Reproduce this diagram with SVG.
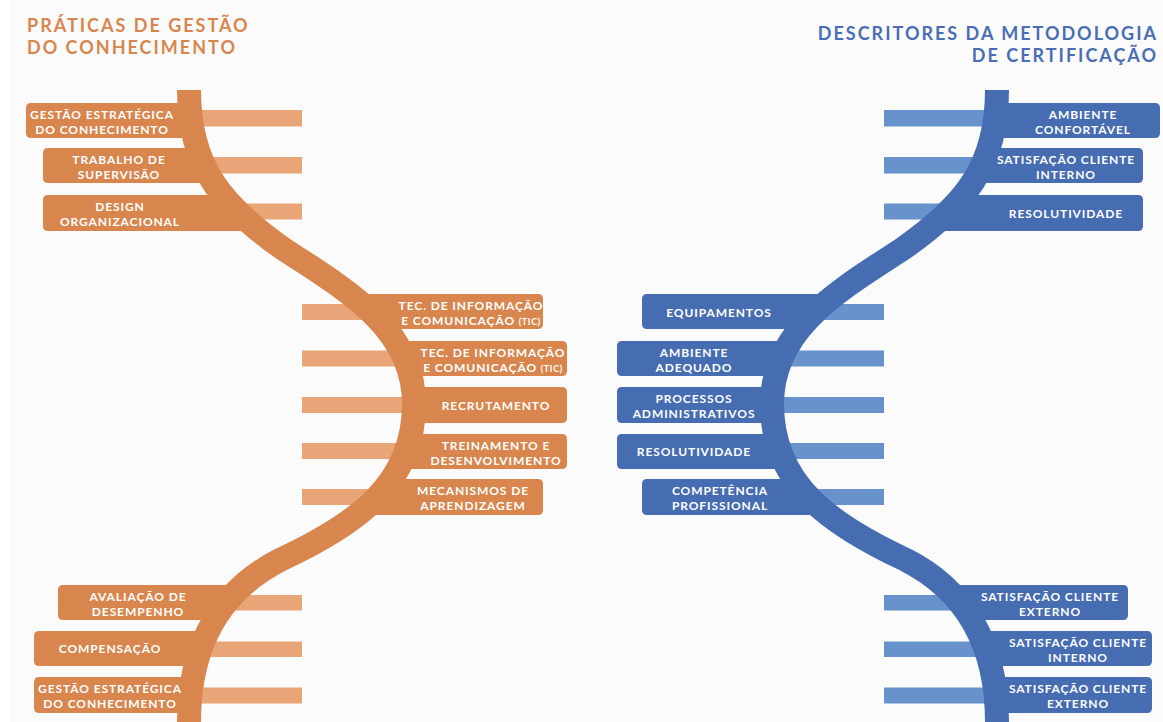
<svg xmlns="http://www.w3.org/2000/svg" width="1163" height="722" viewBox="0 0 1163 722">
<style>
.bg{fill:#FBFBFB}
.o{fill:#D8864E}
.ol{fill:#E8A578}
.b{fill:#466CB2}
.bl{fill:#6892CC}
.bo{fill:none;stroke:#D8864E;stroke-width:24}
.bb{fill:none;stroke:#466CB2;stroke-width:24}
.t{font-family:Lato,"Open Sans","DejaVu Sans",sans-serif;font-weight:700;font-size:12px;letter-spacing:0.9px;fill:#FFFFFF;text-anchor:middle}
.s{font-size:9px;letter-spacing:0.6px}
.ht{font-family:Lato,"Open Sans","DejaVu Sans",sans-serif;font-weight:700;font-size:18px;letter-spacing:2px}
</style>
<rect width="1163" height="722" fill="#FFFFFF"/>
<rect class="bg" x="10" y="0" width="1153" height="722"/>

<g id="titles">
<text class="ht" x="27" y="32" fill="#D8864E">PRÁTICAS DE GESTÃO<tspan x="27" dy="21.6">DO CONHECIMENTO</tspan></text>
<text class="ht" x="1158" y="40" fill="#4A6DB5" text-anchor="end" letter-spacing="1.8">DESCRITORES DA METODOLOGIA<tspan x="1158" dy="21.6">DE CERTIFICAÇÃO</tspan></text>
</g>

<g id="connectors">
<rect class="ol" x="195" y="110" width="107" height="16.5"/>
<rect class="ol" x="195" y="157" width="107" height="16.5"/>
<rect class="ol" x="195" y="203.5" width="107" height="16"/>
<rect class="ol" x="302" y="304" width="100" height="16"/>
<rect class="ol" x="302" y="350.5" width="105" height="16"/>
<rect class="ol" x="302" y="397" width="105" height="16"/>
<rect class="ol" x="302" y="443" width="105" height="16"/>
<rect class="ol" x="302" y="489" width="100" height="16"/>
<rect class="ol" x="195" y="595" width="107" height="15.5"/>
<rect class="ol" x="195" y="641.5" width="107" height="15.5"/>
<rect class="ol" x="195" y="687.5" width="107" height="16"/>
<rect class="bl" x="884" y="110" width="107" height="16.5"/>
<rect class="bl" x="884" y="157" width="107" height="16.5"/>
<rect class="bl" x="884" y="203.5" width="107" height="16"/>
<rect class="bl" x="784" y="304" width="100" height="16"/>
<rect class="bl" x="779" y="350.5" width="105" height="16"/>
<rect class="bl" x="779" y="397" width="105" height="16"/>
<rect class="bl" x="779" y="443" width="105" height="16"/>
<rect class="bl" x="784" y="489" width="100" height="16"/>
<rect class="bl" x="884" y="595" width="107" height="15.5"/>
<rect class="bl" x="884" y="641.5" width="107" height="15.5"/>
<rect class="bl" x="884" y="687.5" width="107" height="16"/>
<path class="bo" d="M189,90 C189,165 220,205 285,250 C350,292 414,330 414,404 C414,485 355,525 280,560 C225,588 189,640 189,722 L189,730"/>
<path class="bb" d="M997,90 C997,165 966,205 901,250 C836,292 772,330 772,404 C772,485 831,525 906,560 C961,588 997,640 997,722 L997,730"/>
</g>

<g id="n-gestao-estrategica-1">
<path class="o" d="M190,103 H31 Q26,103 26,108 V133 Q26,138 31,138 H192 Z"/>
<text class="t" x="102" y="119">GESTÃO ESTRATÉGICA<tspan x="102" dy="14.6">DO CONHECIMENTO</tspan></text>
</g>
<g id="n-trabalho-supervisao">
<path class="o" d="M194,148 H48 Q43,148 43,153 V178 Q43,183 48,183 H211 Z"/>
<text class="t" x="119" y="164">TRABALHO DE<tspan x="119" dy="14.6">SUPERVISÃO</tspan></text>
</g>
<g id="n-design-organizacional">
<path class="o" d="M220,195 H48 Q43,195 43,200 V226 Q43,231 48,231 H252 Z"/>
<text class="t" x="120" y="211">DESIGN<tspan x="120" dy="14.6">ORGANIZACIONAL</tspan></text>
</g>
<g id="n-tic-1">
<path class="o" d="M360,294 H538 Q543,294 543,299 V324 Q543,329 538,329 H390 Z"/>
<text class="t" x="471" y="310">TEC. DE INFORMAÇÃO<tspan x="471" dy="14.6">E COMUNICAÇÃO <tspan class="s">(TIC)</tspan></tspan></text>
</g>
<g id="n-tic-2">
<path class="o" d="M397,341 H562 Q567,341 567,346 V371 Q567,376 562,376 H411 Z"/>
<text class="t" x="493" y="357">TEC. DE INFORMAÇÃO<tspan x="493" dy="14.6">E COMUNICAÇÃO <tspan class="s">(TIC)</tspan></tspan></text>
</g>
<g id="n-recrutamento">
<path class="o" d="M413,387 H562 Q567,387 567,392 V418 Q567,423 562,423 H413 Z"/>
<text class="t" x="496" y="409.5">RECRUTAMENTO</text>
</g>
<g id="n-treinamento">
<path class="o" d="M411,434 H562 Q567,434 567,439 V464 Q567,469 562,469 H398 Z"/>
<text class="t" x="496" y="450">TREINAMENTO E<tspan x="496" dy="14.6">DESENVOLVIMENTO</tspan></text>
</g>
<g id="n-mecanismos">
<path class="o" d="M392,479 H538 Q543,479 543,484 V510 Q543,515 538,515 H365 Z"/>
<text class="t" x="473" y="495">MECANISMOS DE<tspan x="473" dy="14.6">APRENDIZAGEM</tspan></text>
</g>
<g id="n-avaliacao">
<path class="o" d="M243,585 H63 Q58,585 58,590 V615 Q58,620 63,620 H220 Z"/>
<text class="t" x="138" y="601">AVALIAÇÃO DE<tspan x="138" dy="14.6">DESEMPENHO</tspan></text>
</g>
<g id="n-compensacao">
<path class="o" d="M212,631 H39 Q34,631 34,636 V661 Q34,666 39,666 H196 Z"/>
<text class="t" x="110" y="653">COMPENSAÇÃO</text>
</g>
<g id="n-gestao-estrategica-2">
<path class="o" d="M193,677 H39 Q34,677 34,682 V708 Q34,713 39,713 H189 Z"/>
<text class="t" x="110" y="693">GESTÃO ESTRATÉGICA<tspan x="110" dy="14.6">DO CONHECIMENTO</tspan></text>
</g>

<g id="n-ambiente-confortavel">
<path class="b" d="M996,103 H1155 Q1160,103 1160,108 V133 Q1160,138 1155,138 H994 Z"/>
<text class="t" x="1083" y="119">AMBIENTE<tspan x="1083" dy="14.6">CONFORTÁVEL</tspan></text>
</g>
<g id="n-satisfacao-interno-1">
<path class="b" d="M992,148 H1138 Q1143,148 1143,153 V178 Q1143,183 1138,183 H975 Z"/>
<text class="t" x="1066" y="164">SATISFAÇÃO CLIENTE<tspan x="1066" dy="14.6">INTERNO</tspan></text>
</g>
<g id="n-resolutividade-1">
<path class="b" d="M966,195 H1138 Q1143,195 1143,200 V226 Q1143,231 1138,231 H934 Z"/>
<text class="t" x="1066" y="217.5">RESOLUTIVIDADE</text>
</g>
<g id="n-equipamentos">
<path class="b" d="M826,294 H647 Q642,294 642,299 V324 Q642,329 647,329 H796 Z"/>
<text class="t" x="719" y="316.5">EQUIPAMENTOS</text>
</g>
<g id="n-ambiente-adequado">
<path class="b" d="M789,341 H622 Q617,341 617,346 V371 Q617,376 622,376 H775 Z"/>
<text class="t" x="694" y="357">AMBIENTE<tspan x="694" dy="14.6">ADEQUADO</tspan></text>
</g>
<g id="n-processos">
<path class="b" d="M773,387 H622 Q617,387 617,392 V418 Q617,423 622,423 H773 Z"/>
<text class="t" x="694" y="403">PROCESSOS<tspan x="694" dy="14.6">ADMINISTRATIVOS</tspan></text>
</g>
<g id="n-resolutividade-2">
<path class="b" d="M775,434 H622 Q617,434 617,439 V464 Q617,469 622,469 H788 Z"/>
<text class="t" x="694" y="456">RESOLUTIVIDADE</text>
</g>
<g id="n-competencia">
<path class="b" d="M794,479 H647 Q642,479 642,484 V510 Q642,515 647,515 H821 Z"/>
<text class="t" x="720" y="495">COMPETÊNCIA<tspan x="720" dy="14.6">PROFISSIONAL</tspan></text>
</g>
<g id="n-satisfacao-externo-1">
<path class="b" d="M943,585 H1123 Q1128,585 1128,590 V615 Q1128,620 1123,620 H966 Z"/>
<text class="t" x="1050" y="601">SATISFAÇÃO CLIENTE<tspan x="1050" dy="14.6">EXTERNO</tspan></text>
</g>
<g id="n-satisfacao-interno-2">
<path class="b" d="M974,631 H1147 Q1152,631 1152,636 V661 Q1152,666 1147,666 H990 Z"/>
<text class="t" x="1078" y="647">SATISFAÇÃO CLIENTE<tspan x="1078" dy="14.6">INTERNO</tspan></text>
</g>
<g id="n-satisfacao-externo-2">
<path class="b" d="M993,677 H1147 Q1152,677 1152,682 V708 Q1152,713 1147,713 H997 Z"/>
<text class="t" x="1078" y="693">SATISFAÇÃO CLIENTE<tspan x="1078" dy="14.6">EXTERNO</tspan></text>
</g>
</svg>
